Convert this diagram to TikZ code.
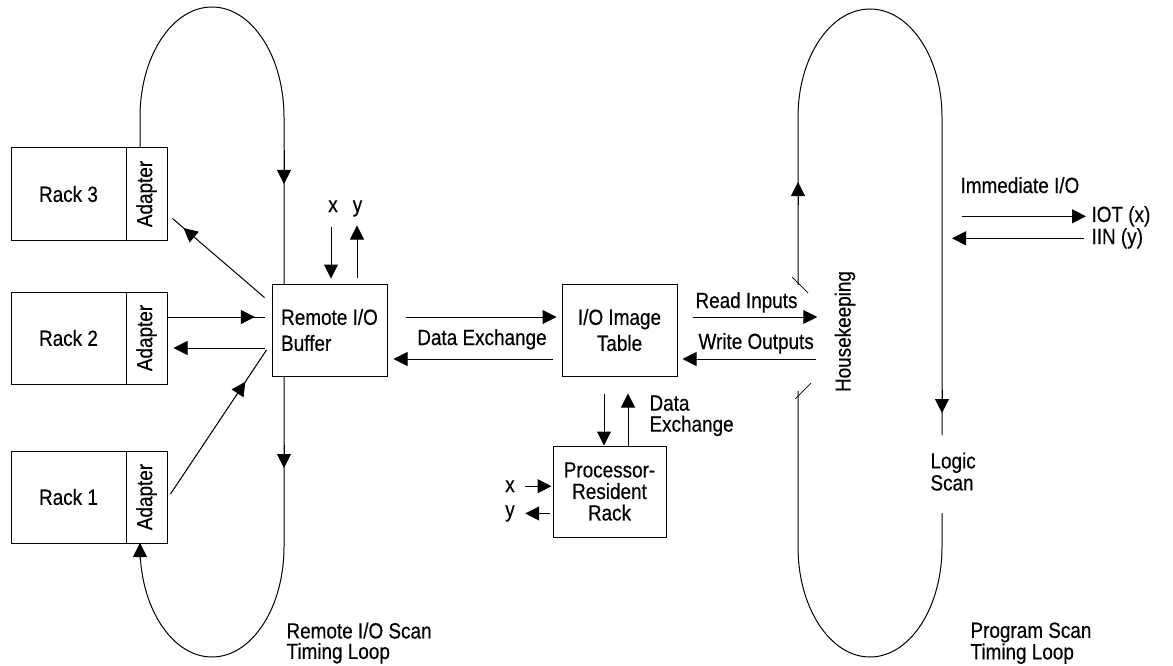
\documentclass[tikz,border=0pt]{standalone}
\usepackage{fontspec}
\setmainfont{Liberation Sans}[FakeStretch=0.86,FakeBold=0.4]
\usetikzlibrary{arrows.meta,decorations.markings,calc}
\newcommand\dfont{\fontsize{22}{26}\selectfont}
\newcommand\tfont{\fontsize{22}{21}\selectfont}
\begin{document}
\begin{tikzpicture}[x=1pt,y=-1pt,line width=1pt,
  tri/.style={-{Triangle[length=14pt,width=14pt]}},
  arrowat/.style={postaction={decorate},decoration={markings,mark=at position #1 with {\arrow{Triangle[length=14pt,width=14pt]}}}},
  rackbox/.style={draw,minimum width=115pt,minimum height=92pt,inner sep=0pt,font=\dfont},
  adbox/.style={draw,minimum width=41pt,minimum height=92pt,inner sep=0pt,font=\dfont},
  mainbox/.style={draw,minimum width=115pt,minimum height=92pt,inner sep=0pt,font=\dfont},
  lbl/.style={inner sep=0pt,font=\dfont},
  mlbl/.style={inner sep=0pt,font=\tfont,align=left,anchor=north west},
  tick/.style={line width=0.7pt}]
\useasboundingbox (0,0) rectangle (1173,666);

% racks
\node[rackbox] (r3) at (68.5,194) {Rack 3};
\node[adbox] (a3) at (146.5,194) {\rotatebox{90}{Adapter}};
\node[rackbox] (r2) at (68.5,338) {Rack 2};
\node[adbox] (a2) at (146.5,338) {\rotatebox{90}{Adapter}};
\node[rackbox] (r1) at (68.5,497) {Rack 1};
\node[adbox] (a1) at (146.5,497) {\rotatebox{90}{Adapter}};

% main boxes
\node[mainbox,align=left] (buf) at (329.5,330) {Remote I/O\\Buffer};
\node[mainbox,align=center] (iot) at (619.5,330) {I/O Image\\Table};
\node[draw,minimum width=113pt,minimum height=91pt,inner sep=0pt,align=center,font={\fontsize{22}{21.5}\selectfont}] (prr) at (609.5,491.5) {Processor-\\Resident\\Rack};
\node[lbl] (hk) at (845,331.5) {\rotatebox{90}{Housekeeping}};

% rack connectors
\draw[arrowat=0.88] ($(buf.north west)+(-7,14)$) -- ($(a3.south east)+(5,-22)$);
\draw[arrowat=0.9] ($(a2.east)+(0,-21)$) -- ($(buf.west)+(-7,-13)$);
\draw[tri] ($(buf.west)+(-7,18)$) -- ($(a2.east)+(6,10)$);
\draw[arrowat=0.78] ($(a1.east)+(3,-3)$) -- ($(buf.west)+(-5,20)$);

% x / y at buffer
\node[lbl,anchor=base] (bx) at (333,212) {x};
\node[lbl,anchor=base] (by) at (357.5,212) {y};
\draw[tri] ($(buf.north)+(1.5,-57)$) -- ($(buf.north)+(1.5,-5)$);
\draw[tri] ($(buf.north)+(27.5,-6)$) -- ($(buf.north)+(27.5,-58)$);

% data exchange buffer <-> table
\draw[tri] ($(buf.east)+(18,-13)$) -- ($(iot.west)+(-5,-13)$);
\draw[tri] ($(iot.west)+(-9,29)$) -- ($(buf.east)+(6,29)$);
\node[lbl,anchor=base] (dex) at (482,345) {Data Exchange};

% read / write
\draw[tri] ($(iot.east)+(15,-13)$) -- ($(hk.west)+(-17,-14.5)$);
\draw[tri] ($(hk.west)+(-18,27.5)$) -- ($(iot.east)+(5,29)$);
\node[lbl,anchor=base west] (ri) at (695,308) {Read Inputs};
\node[lbl,anchor=base west] (wo) at (698,349) {Write Outputs};

% table <-> processor rack
\draw[tri] ($(iot.south)+(-15.5,17)$) -- ($(prr.north)+(-5.5,0)$);
\draw[tri] ($(prr.north)+(18.5,0)$) -- ($(iot.south)+(8.5,17)$);
\node[mlbl] (dex2) at (649,395) {Data\\Exchange};

% processor x / y
\node[lbl,anchor=base] (px) at (510,492) {x};
\node[lbl,anchor=base] (py) at (510,517) {y};
\draw[tri] ($(px.east)+(10,0)$) -- ($(prr.west |- px.east)+(-1,0)$);
\draw[tri] ($(prr.west |- py.east)+(-3,0)$) -- ($(py.east)+(10,0)$);

% remote I/O scan loop
\draw (140,148) -- (140,117) arc[start angle=180,end angle=360,x radius=72,y radius=110] -- (284,284);
\draw (284,376) -- (284,547) arc[start angle=0,end angle=180,x radius=72,y radius=110] -- (140,560);
\draw[tri] (284,150) -- (284,184);
\draw[tri] (284,445) -- (284,468);
\draw[tri] (140,562) -- (140,543);
\node[mlbl,font={\fontsize{22}{20.5}\selectfont}] (rl) at (286,622) {Remote I/O Scan\\Timing Loop};

% program scan loop
\draw (798,285) -- (798,117) arc[start angle=180,end angle=360,x radius=72,y radius=108] -- (942,435);
\draw (942,513) -- (942,547) arc[start angle=0,end angle=180,x radius=72,y radius=110] -- (798,391);
\draw[tick] (792,277) -- (808,293);
\draw[tick] (795,399) -- (811,383);
\draw[tri] (798,205) -- (798,182);
\draw[tri] (942,390) -- (942,413);
\node[mlbl,font={\fontsize{22}{22}\selectfont}] (ls) at (930,452) {Logic\\Scan};
\node[mlbl,font={\fontsize{22}{20.5}\selectfont}] (pl) at (970,622) {Program Scan\\Timing Loop};

% immediate I/O
\node[lbl,anchor=base west] (imm) at (960,193) {Immediate I/O};
\node[lbl,anchor=base west] (iotx) at (1091,222) {IOT (x)};
\node[lbl,anchor=base west] (iin) at (1091,244) {IIN (y)};
\draw[tri] ($(iotx.west)+(-129,0)$) -- ($(iotx.west)+(-5,0)$);
\draw[tri] ($(iin.west)+(-7,0)$) -- ($(iin.west)+(-139,0)$);
\end{tikzpicture}
\end{document}
